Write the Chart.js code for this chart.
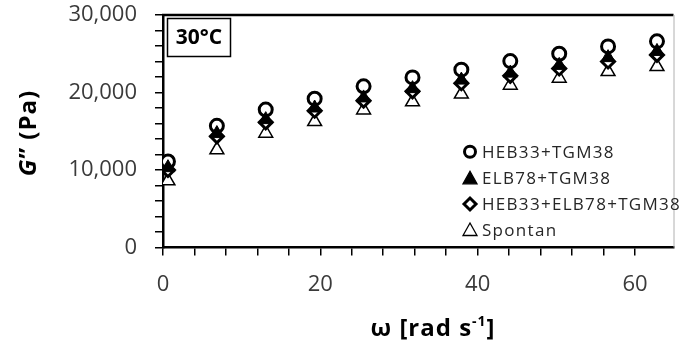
<!DOCTYPE html>
<html>
<head>
<meta charset="utf-8">
<script src="https://cdn.jsdelivr.net/npm/chart.js@4.4.1/dist/chart.umd.min.js"></script>
<style>
  html, body { margin: 0; padding: 0; background: #fff; }
  canvas { display: block; }
</style>
</head>
<body>
<canvas id="gChart" width="683" height="347"></canvas>
<script>
// angular frequency (rad/s)
const omega = [0.63, 6.85, 13.06, 19.28, 25.5, 31.72, 37.93, 44.15, 50.37, 56.58, 62.8];

// G'' (Pa) per sample
const heb33Tgm = [11100, 15700, 17800, 19200, 20800, 21950, 22950, 24050, 25000, 25950, 26600];
const elb78Tgm = [10300, 14700, 16500, 18000, 19300, 20500, 21600, 22500, 23500, 24500, 25300];
const hebElbTgm = [10000, 14350, 16150, 17650, 18950, 20150, 21200, 22150, 23100, 24000, 24850];
const spontan = [8600, 12600, 14750, 16250, 17750, 18800, 19800, 20950, 21850, 22700, 23350];

const seriesNames = ["HEB33+TGM38", "ELB78+TGM38", "HEB33+ELB78+TGM38", "Spontan"];

const xMajor = [0, 20, 40, 60];
const yMajor = [0, 10000, 20000, 30000];

const toPoints = ys => omega.map((x, i) => ({ x: x, y: ys[i] }));

const tickFont = { family: "'Open Sans', sans-serif", size: 22 };
const tickColor = "#3a3a3a";

// axis titles, temperature tag, frame and legend are painted by hand
const decorPlugin = {
  id: "decor",
  afterDraw(chart) {
    const ctx = chart.ctx;
    const a = chart.chartArea;
    ctx.save();

    // top frame line + thin right edge
    ctx.strokeStyle = "#000";
    ctx.lineWidth = 2.5;
    ctx.beginPath();
    ctx.moveTo(a.left - 1, a.top);
    ctx.lineTo(a.right, a.top);
    ctx.stroke();
    ctx.strokeStyle = "#b0b0b0";
    ctx.lineWidth = 1;
    ctx.beginPath();
    ctx.moveTo(a.right + 0.5, a.top);
    ctx.lineTo(a.right + 0.5, a.bottom);
    ctx.stroke();

    // "30°C" box
    ctx.strokeStyle = "#000";
    ctx.lineWidth = 1.5;
    ctx.strokeRect(a.left + 4.5, a.top + 3.5, 63, 38);
    ctx.fillStyle = "#000";
    ctx.font = "bold 21px 'Open Sans', sans-serif";
    ctx.textAlign = "center";
    ctx.textBaseline = "middle";
    ctx.fillText("30°C", a.left + 36, a.top + 23);

    // x title: ω [rad s-1]
    const xc = 433;
    ctx.textBaseline = "alphabetic";
    ctx.textAlign = "left";
    ctx.letterSpacing = "1px";
    const part1 = "ω [rad s";
    const part3 = "]";
    ctx.font = "bold 24px 'Open Sans', sans-serif";
    const w1 = ctx.measureText(part1).width;
    const w3 = ctx.measureText(part3).width;
    ctx.font = "bold 14px 'Open Sans', sans-serif";
    const w2 = ctx.measureText("-1").width;
    const x0 = xc - (w1 + w2 + w3) / 2;
    const base = 336;
    ctx.font = "bold 24px 'Open Sans', sans-serif";
    ctx.fillText(part1, x0, base);
    ctx.font = "bold 14px 'Open Sans', sans-serif";
    ctx.fillText("-1", x0 + w1, base - 10);
    ctx.font = "bold 24px 'Open Sans', sans-serif";
    ctx.fillText(part3, x0 + w1 + w2, base);

    // y title: G'' (Pa), rotated
    ctx.save();
    ctx.translate(36, 133);
    ctx.rotate(-Math.PI / 2);
    ctx.font = "italic bold 24px 'Open Sans', sans-serif";
    const gW = ctx.measureText("G").width;
    ctx.font = "bold 24px 'Open Sans', sans-serif";
    const restW = ctx.measureText("\u201D (Pa)").width;
    const gx = -(gW + restW) / 2;
    ctx.font = "italic bold 24px 'Open Sans', sans-serif";
    ctx.fillText("G", gx, 0);
    ctx.font = "bold 24px 'Open Sans', sans-serif";
    ctx.fillText("\u201D (Pa)", gx + gW, 0);
    ctx.restore();

    // legend
    const rows = [151.7, 178.3, 204, 230];
    const mx = 470;
    ctx.font = "17px 'Open Sans', sans-serif";
    ctx.letterSpacing = "1.3px";
    ctx.textBaseline = "middle";
    ctx.textAlign = "left";
    seriesNames.forEach((name, i) => {
      const y = rows[i];
      ctx.strokeStyle = "#000";
      ctx.fillStyle = "#000";
      ctx.beginPath();
      if (i === 0) {
        ctx.lineWidth = 3;
        ctx.arc(mx, y, 5.5, 0, Math.PI * 2);
        ctx.stroke();
      } else if (i === 2) {
        ctx.lineWidth = 3;
        ctx.moveTo(mx - 6, y);
        ctx.lineTo(mx, y - 6);
        ctx.lineTo(mx + 6, y);
        ctx.lineTo(mx, y + 6);
        ctx.closePath();
        ctx.stroke();
      } else {
        ctx.lineWidth = 1.3;
        ctx.moveTo(mx, y - 7);
        ctx.lineTo(mx + 7, y + 5.5);
        ctx.lineTo(mx - 7, y + 5.5);
        ctx.closePath();
        if (i === 1) ctx.fill();
        ctx.stroke();
      }
      ctx.fillStyle = "#262626";
      ctx.fillText(name, mx + 12, y + 1);
    });
    ctx.restore();
  }
};

new Chart(document.getElementById("gChart"), {
  type: "scatter",
  data: {
    datasets: [
      {
        label: seriesNames[0],
        data: toPoints(heb33Tgm),
        pointStyle: "circle",
        pointRadius: 6.5,
        pointBorderWidth: 3,
        borderColor: "#000",
        backgroundColor: "#fff",
        order: 4
      },
      {
        label: seriesNames[1],
        data: toPoints(elb78Tgm),
        pointStyle: "triangle",
        pointRadius: 8,
        pointBorderWidth: 1,
        borderColor: "#000",
        backgroundColor: "#000",
        order: 2
      },
      {
        label: seriesNames[2],
        data: toPoints(hebElbTgm),
        pointStyle: "rectRot",
        pointRadius: 6.5,
        pointBorderWidth: 3,
        borderColor: "#000",
        backgroundColor: "#fff",
        order: 3
      },
      {
        label: seriesNames[3],
        data: toPoints(spontan),
        pointStyle: "triangle",
        pointRadius: 8,
        pointBorderWidth: 1.5,
        borderColor: "#000",
        backgroundColor: "#fff",
        order: 5
      }
    ]
  },
  options: {
    responsive: false,
    devicePixelRatio: 1,
    animation: false,
    layout: { padding: { top: 15, right: 1, left: 0, bottom: 0 } },
    plugins: {
      legend: { display: false },
      tooltip: { enabled: false }
    },
    scales: {
      x: {
        type: "linear",
        min: 0,
        max: 64.9,
        afterBuildTicks: s => { s.ticks = s.ticks.filter(t => t.value % 4 === 0); },
        afterFit: s => { s.height = 99.5; s.paddingLeft = 0; s.paddingRight = 0; },
        ticks: {
          stepSize: 4,
          autoSkip: false,
          maxRotation: 0,
          padding: 16,
          color: tickColor,
          font: tickFont,
          callback: v => (xMajor.includes(v) ? String(v) : "")
        },
        grid: { drawOnChartArea: false, drawTicks: true, tickLength: 8, color: "#000", lineWidth: 1.5 },
        border: { display: true, color: "#000", width: 2.5 }
      },
      y: {
        type: "linear",
        min: 0,
        max: 30000,
        afterFit: s => { s.width = 163; s.paddingTop = 0; s.paddingBottom = 0; },
        ticks: {
          stepSize: 2000,
          autoSkip: false,
          padding: 18,
          color: tickColor,
          font: tickFont,
          callback: v => (yMajor.includes(v) ? v.toLocaleString("en-US") : "")
        },
        grid: { drawOnChartArea: false, drawTicks: true, tickLength: 8, color: "#000", lineWidth: 1.5 },
        border: { display: true, color: "#000", width: 2.5 }
      }
    }
  },
  plugins: [decorPlugin]
});
</script>
</body>
</html>
